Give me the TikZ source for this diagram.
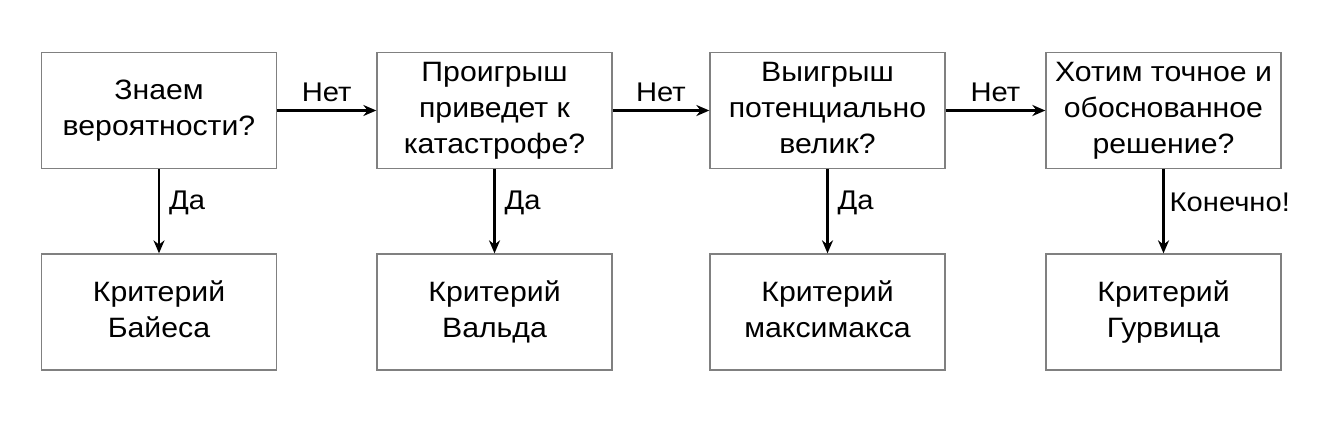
\documentclass[tikz,border=0pt]{standalone}
\usepackage{fontspec}
\setmainfont[FakeStretch=1.08]{Liberation Sans}
\usetikzlibrary{arrows.meta}
\begin{document}
\begin{tikzpicture}[x=1pt,y=-1pt,
  box/.style={draw=black!50, line width=1.3pt, minimum width=235pt, minimum height=116pt, inner sep=0pt, align=center, font=\fontsize{28}{36}\selectfont},
  arr/.style={-{Stealth[length=13pt,width=11pt]}, line width=2.4pt},
  lbl/.style={font=\fontsize{27}{30}\selectfont, inner sep=0pt}]
\useasboundingbox (0,0) rectangle (1338,439);
\node[box] (q1) at (159,110.5) {\strut Знаем\\вероятности?\strut};
\node[box] (q2) at (494.5,110.5) {\strut Проигрыш\\приведет к\\катастрофе?\strut};
\node[box] (q3) at (827.5,110.5) {\strut Выигрыш\\потенциально\\велик?\strut};
\node[box] (q4) at (1163.5,110.5) {\strut Хотим точное и\\обоснованное\\решение?\strut};
\node[box] (c1) at (159,312) {\strut Критерий\\Байеса\strut};
\node[box] (c2) at (494.5,312) {\strut Критерий\\Вальда\strut};
\node[box] (c3) at (827.5,312) {\strut Критерий\\максимакса\strut};
\node[box] (c4) at (1163.5,312) {\strut Критерий\\Гурвица\strut};
\draw[arr] (q1) -- node[lbl, above=8pt] {Нет} (q2);
\draw[arr] (q2) -- node[lbl, above=8pt] {Нет} (q3);
\draw[arr] (q3) -- node[lbl, above=8pt] {Нет} (q4);
\draw[arr] (q1) -- node[lbl, right=9pt, pos=0.4] {Да} (c1);
\draw[arr] (q2) -- node[lbl, right=9pt, pos=0.4] {Да} (c2);
\draw[arr] (q3) -- node[lbl, right=9pt, pos=0.4] {Да} (c3);
\draw[arr] (q4) -- node[lbl, right=5pt, pos=0.4] {Конечно!} (c4);
\end{tikzpicture}
\end{document}
